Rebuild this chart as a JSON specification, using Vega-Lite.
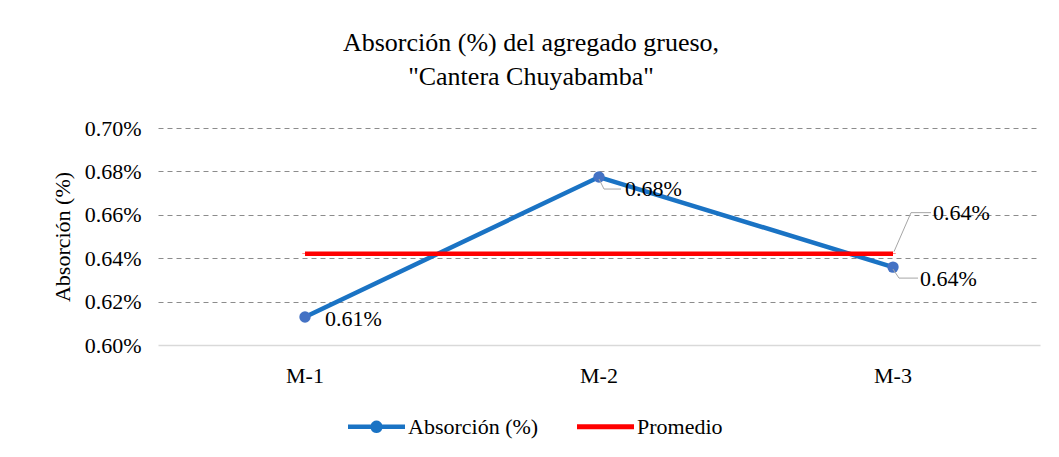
{
  "$schema": "https://vega.github.io/schema/vega-lite/v6.json",
  "width": 882,
  "height": 217,
  "autosize": {"type": "none"},
  "padding": {"left": 158, "top": 128, "right": 19, "bottom": 112},
  "background": "white",
  "config": {
    "font": "Liberation Serif, Times New Roman, serif",
    "text": {"font": "Liberation Serif, Times New Roman, serif"},
    "view": {"stroke": null},
    "axis": {"labelFont": "Liberation Serif, Times New Roman, serif", "titleFont": "Liberation Serif, Times New Roman, serif", "labelColor": "#000000", "titleColor": "#000000", "titleFontWeight": "normal"},
    "legend": {"labelFont": "Liberation Serif, Times New Roman, serif"},
    "title": {"font": "Liberation Serif, Times New Roman, serif"}
  },
  "title": {
    "text": ["Absorción (%) del agregado grueso,", "\"Cantera Chuyabamba\""],
    "fontSize": 26,
    "fontWeight": "normal",
    "color": "#000000",
    "anchor": "middle",
    "dx": -68,
    "offset": 27,
    "lineHeight": 34
  },
  "data": {
    "values": [
      {"muestra": "M-1", "serie": "Absorción (%)", "valor": 0.6129},
      {"muestra": "M-2", "serie": "Absorción (%)", "valor": 0.6774},
      {"muestra": "M-3", "serie": "Absorción (%)", "valor": 0.6359},
      {"muestra": "M-1", "serie": "Promedio", "valor": 0.6421},
      {"muestra": "M-2", "serie": "Promedio", "valor": 0.6421},
      {"muestra": "M-3", "serie": "Promedio", "valor": 0.6421}
    ]
  },
  "encoding": {
    "x": {
      "field": "muestra",
      "type": "nominal",
      "scale": {"type": "band", "paddingInner": 0, "paddingOuter": 0},
      "axis": {
        "title": null,
        "labelAngle": 0,
        "labelFontSize": 22,
        "labelPadding": 20,
        "ticks": false,
        "tickSize": 0,
        "domainColor": "#d9d9d9",
        "domainWidth": 1.5
      }
    },
    "y": {
      "field": "valor",
      "type": "quantitative",
      "scale": {"domain": [0.6, 0.7], "zero": false, "nice": false},
      "axis": {
        "title": "Absorción (%)",
        "titleFontSize": 22,
        "titlePadding": 10,
        "values": [0.6, 0.62, 0.64, 0.66, 0.68, 0.7],
        "labelExpr": "format(datum.value, '.2f') + '%'",
        "labelFontSize": 22,
        "labelPadding": 17,
        "ticks": false,
        "domain": false,
        "grid": true,
        "gridColor": "#8c8c8c",
        "gridDash": [5, 4],
        "gridWidth": 1,
        "gridOpacity": {"condition": {"test": "datum.value < 0.601", "value": 0}, "value": 1}
      }
    }
  },
  "layer": [
    {
      "mark": {"type": "line", "strokeWidth": 4.5},
      "encoding": {
        "color": {
          "field": "serie",
          "type": "nominal",
          "scale": {"domain": ["Absorción (%)", "Promedio"], "range": ["#1a73c4", "#ff0000"]},
          "legend": {
            "title": null,
            "orient": "none",
            "direction": "horizontal",
            "legendX": 190,
            "legendY": 270,
            "labelFontSize": 22,
            "labelColor": "#000000",
            "labelOffset": 3,
            "columnPadding": 38,
            "symbolSize": 3249,
            "symbolStrokeWidth": 0,
            "encode": {"symbols": {"update": {"fill": {"scale": "color", "field": "value"}, "strokeWidth": {"value": 0}}}}
          }
        },
        "shape": {
          "field": "serie",
          "type": "nominal",
          "scale": {
            "domain": ["Absorción (%)", "Promedio"],
            "range": [
              "M-1,-0.075 L-0.2,-0.075 A0.21,0.21 0 0,1 0.2,-0.075 L1,-0.075 L1,0.075 L0.2,0.075 A0.21,0.21 0 0,1 -0.2,0.075 L-1,0.075 Z",
              "M-1,-0.085 L1,-0.085 L1,0.085 L-1,0.085 Z"
            ]
          }
        }
      }
    },
    {
      "transform": [{"filter": "datum.serie === 'Absorción (%)'"}],
      "mark": {"type": "point", "filled": true, "size": 130, "opacity": 1, "color": "#4472c4"}
    },
    {
      "transform": [{"filter": "datum.serie === 'Absorción (%)' && datum.muestra === 'M-2'"}],
      "mark": {"type": "rule", "color": "#a6a6a6", "strokeWidth": 1, "yOffset": 2, "y2Offset": 12, "x2Offset": 5},
      "encoding": {"x2": {"field": "muestra"}, "y2": {"field": "valor"}}
    },
    {
      "transform": [{"filter": "datum.serie === 'Absorción (%)' && datum.muestra === 'M-2'"}],
      "mark": {"type": "rule", "color": "#a6a6a6", "strokeWidth": 1, "xOffset": 5, "yOffset": 12, "y2Offset": 12, "x2Offset": 22},
      "encoding": {"x2": {"field": "muestra"}, "y2": {"field": "valor"}}
    },
    {
      "transform": [{"filter": "datum.serie === 'Absorción (%)' && datum.muestra === 'M-3'"}],
      "mark": {"type": "rule", "color": "#a6a6a6", "strokeWidth": 1, "yOffset": 2, "y2Offset": 11, "x2Offset": 6},
      "encoding": {"x2": {"field": "muestra"}, "y2": {"field": "valor"}}
    },
    {
      "transform": [{"filter": "datum.serie === 'Absorción (%)' && datum.muestra === 'M-3'"}],
      "mark": {"type": "rule", "color": "#a6a6a6", "strokeWidth": 1, "xOffset": 6, "yOffset": 11, "y2Offset": 11, "x2Offset": 25},
      "encoding": {"x2": {"field": "muestra"}, "y2": {"field": "valor"}}
    },
    {
      "transform": [{"filter": "datum.serie === 'Promedio' && datum.muestra === 'M-3'"}],
      "mark": {"type": "rule", "color": "#a6a6a6", "strokeWidth": 1, "xOffset": 1, "yOffset": -2, "y2Offset": -41, "x2Offset": 18},
      "encoding": {"x2": {"field": "muestra"}, "y2": {"field": "valor"}}
    },
    {
      "transform": [{"filter": "datum.serie === 'Promedio' && datum.muestra === 'M-3'"}],
      "mark": {"type": "rule", "color": "#a6a6a6", "strokeWidth": 1, "xOffset": 18, "yOffset": -41, "y2Offset": -41, "x2Offset": 38},
      "encoding": {"x2": {"field": "muestra"}, "y2": {"field": "valor"}}
    },
    {
      "transform": [{"filter": "datum.serie === 'Absorción (%)' && datum.muestra === 'M-1'"}],
      "mark": {"type": "text", "align": "left", "baseline": "middle", "dx": 20, "dy": 2, "fontSize": 22, "color": "#000000"},
      "encoding": {"text": {"value": "0.61%"}}
    },
    {
      "transform": [{"filter": "datum.serie === 'Absorción (%)' && datum.muestra === 'M-2'"}],
      "mark": {"type": "text", "align": "left", "baseline": "middle", "dx": 26, "dy": 12, "fontSize": 22, "color": "#000000"},
      "encoding": {"text": {"value": "0.68%"}}
    },
    {
      "transform": [{"filter": "datum.serie === 'Absorción (%)' && datum.muestra === 'M-3'"}],
      "mark": {"type": "text", "align": "left", "baseline": "middle", "dx": 27, "dy": 12, "fontSize": 22, "color": "#000000"},
      "encoding": {"text": {"value": "0.64%"}}
    },
    {
      "transform": [{"filter": "datum.serie === 'Promedio' && datum.muestra === 'M-3'"}],
      "mark": {"type": "text", "align": "left", "baseline": "middle", "dx": 40, "dy": -41, "fontSize": 22, "color": "#000000"},
      "encoding": {"text": {"value": "0.64%"}}
    }
  ]
}
